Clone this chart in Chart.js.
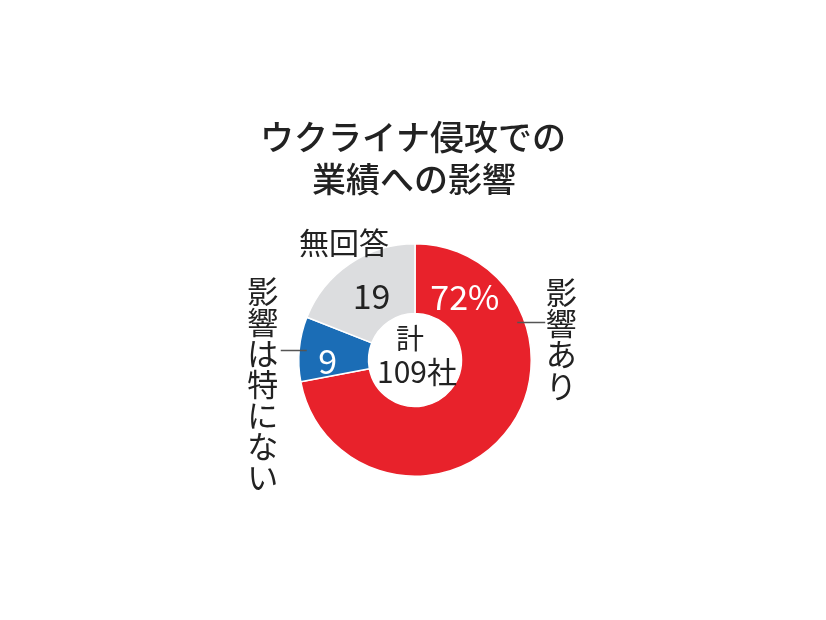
<!DOCTYPE html>
<html>
<head>
<meta charset="utf-8">
<script src="https://cdn.jsdelivr.net/npm/chart.js@4.4.1/dist/chart.umd.min.js"></script>
<style>
html,body{margin:0;padding:0;background:#fff;}
#wrap{position:relative;width:826px;height:620px;}
</style>
</head>
<body>
<div id="wrap"><canvas id="c" width="826" height="620"></canvas></div>
<script>
const titleLines = ["ウクライナ侵攻での", "業績への影響"];
const categories = ["影響あり", "影響は特にない", "無回答"];
const values = [72, 9, 19];
const valueLabels = ["72%", "9", "19"];
const colors = ["#e8222b", "#1b6db6", "#dcdddf"];
const centerLines = ["計", "109社"];

const FONT = '"Noto Sans CJK JP", "Noto Sans", sans-serif';
const TXT = "#222222";

const overlay = {
  id: 'overlay',
  afterDraw(chart) {
    const ctx = chart.ctx;
    const meta = chart.getDatasetMeta(0);
    const arc0 = meta.data[0];
    const cx = arc0.x, cy = arc0.y;
    const R = arc0.outerRadius, r = arc0.innerRadius;
    ctx.save();
    ctx.textAlign = 'center';
    ctx.textBaseline = 'middle';

    // title
    ctx.fillStyle = TXT;
    ctx.font = '500 34px ' + FONT;
    ctx.fillText(titleLines[0], cx - 2, 137);
    ctx.fillText(titleLines[1], cx - 1, 179);

    // value labels inside segments
    const mid = (a) => (a.startAngle + a.endAngle) / 2;
    const put = (txt, ang, rad, color, size) => {
      ctx.fillStyle = color;
      ctx.font = size + 'px ' + FONT;
      ctx.fillText(txt, cx + Math.cos(ang) * rad, cy + Math.sin(ang) * rad);
    };
    // 72% placed near the top of the red segment
    const a0 = meta.data[0];
    put(valueLabels[0], a0.startAngle + (a0.endAngle - a0.startAngle) * 0.148, (R + r) / 2 - 1, '#ffffff', 34);
    const a1 = meta.data[1];
    put(valueLabels[1], mid(a1) - 0.11, (R + r) / 2 + 6, '#ffffff', 34);
    const a2 = meta.data[2];
    put(valueLabels[2], mid(a2), (R + r) / 2 - 4, TXT, 34);

    // center text
    ctx.fillStyle = TXT;
    ctx.font = '28px ' + FONT;
    ctx.fillText(centerLines[0], cx - 5, cy - 22);
    ctx.font = '30px ' + FONT;
    ctx.fillText(centerLines[1], cx + 2, cy + 12);

    // 無回答 horizontal
    ctx.font = '30px ' + FONT;
    ctx.fillText(categories[2], cx - 71, cy - 117);

    // vertical labels
    const vert = (txt, x, y0, step) => {
      ctx.font = '31px ' + FONT;
      [...txt].forEach((ch, i) => ctx.fillText(ch, x, y0 + i * step));
    };
    ctx.fillStyle = TXT;
    vert(categories[0], cx + R + 30, cy - 68, 31.3);
    vert(categories[1], cx - R - 36, cy - 69, 31);

    // leader lines
    ctx.strokeStyle = '#555555';
    ctx.lineWidth = 1.5;
    ctx.beginPath();
    ctx.moveTo(cx + R - 14, cy - 37.5);
    ctx.lineTo(cx + R + 14, cy - 37.5);
    ctx.moveTo(cx - R - 18, cy - 9.5);
    ctx.lineTo(cx - R + 8, cy - 9.5);
    ctx.stroke();
    ctx.restore();
  }
};

new Chart(document.getElementById('c'), {
  type: 'doughnut',
  data: {
    labels: categories,
    datasets: [{
      data: values,
      backgroundColor: colors,
      borderColor: '#ffffff',
      borderWidth: 1.5,
      hoverOffset: 0
    }]
  },
  options: {
    responsive: false,
    animation: false,
    cutout: '40%',
    rotation: 0,
    layout: { padding: { left: 298, right: 294, top: 243, bottom: 143 } },
    plugins: { legend: { display: false }, tooltip: { enabled: false }, title: { display: false } },
    events: []
  },
  plugins: [overlay]
});
</script>
</body>
</html>
